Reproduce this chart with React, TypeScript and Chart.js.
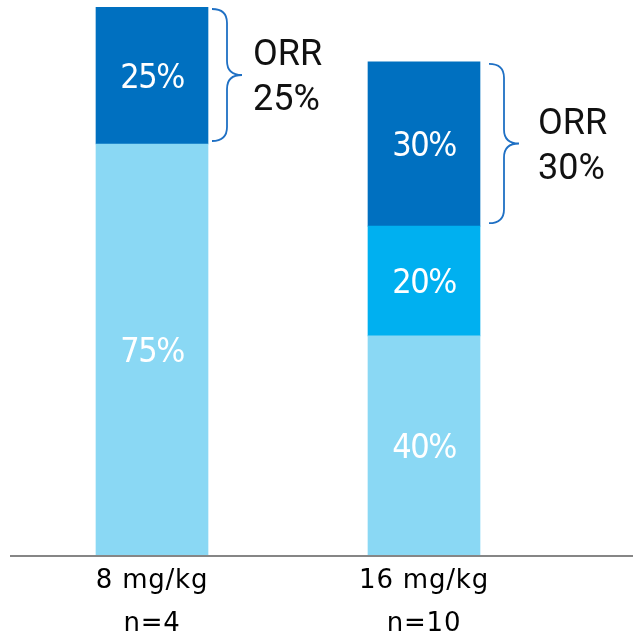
import React, { useEffect, useRef } from "react";
import { Chart, registerables } from "chart.js";

Chart.register(...registerables);

// Dose groups shown on the x axis (two lines each)
const doseLabels: string[][] = [
  ["8 mg/kg", "n=4"],
  ["16 mg/kg", "n=10"],
];

// Stacked response shares, in percent, bottom to top
const lowerShare: (number | null)[] = [75, 40];
const middleShare: (number | null)[] = [null, 20];
const orrShare: (number | null)[] = [25, 30];

const COLOR_LOWER = "#8AD8F4";
const COLOR_MIDDLE = "#00B0F0";
const COLOR_ORR = "#0070C0";
const BRACE_COLOR = "#1F70C4";

// Horizontal offsets of each ORR brace / caption from its bar's right edge
const braceGap = [4, 9];
const captionGap = [45, 58];

const W = 633;
const H = 638;

const segmentLabels = {
  id: "segmentLabels",
  afterDatasetsDraw(chart: any) {
    const ctx: CanvasRenderingContext2D = chart.ctx;
    ctx.save();
    ctx.letterSpacing = "-1.5px";
    const size = 34;
    ctx.font = `${size}px 'DejaVu Sans Condensed', sans-serif`;
    ctx.fillStyle = "#ffffff";
    ctx.textAlign = "center";
    ctx.textBaseline = "alphabetic";
    chart.data.datasets.forEach((ds: any, di: number) => {
      const meta = chart.getDatasetMeta(di);
      meta.data.forEach((bar: any, i: number) => {
        const v = ds.data[i];
        if (v == null || v === 0) return;
        const p = bar.getProps(["x", "y", "base"], true);
        const cy = (p.y + p.base) / 2;
        ctx.fillText(`${v}%`, p.x, cy + size * 0.729 / 2);
      });
    });
    ctx.restore();
  },
};

const orrBraces = {
  id: "orrBraces",
  afterDatasetsDraw(chart: any) {
    const ctx: CanvasRenderingContext2D = chart.ctx;
    const orrIndex = chart.data.datasets.length - 1;
    const meta = chart.getDatasetMeta(orrIndex);
    ctx.save();
    ctx.letterSpacing = "0px";
    meta.data.forEach((bar: any, i: number) => {
      const v = orrShare[i];
      if (v == null) return;
      const p = bar.getProps(["x", "y", "base", "width"], true);
      const right = p.x + p.width / 2;
      const top = p.y + 2;
      const bottom = p.base - 3;
      const mid = (top + bottom) / 2;
      const x0 = right + braceGap[i];
      const xm = x0 + 15;
      const x1 = x0 + 30;
      const r = 14;

      ctx.beginPath();
      ctx.moveTo(x0, top);
      ctx.quadraticCurveTo(xm, top, xm, top + r);
      ctx.lineTo(xm, mid - r);
      ctx.quadraticCurveTo(xm, mid, x1, mid);
      ctx.quadraticCurveTo(xm, mid, xm, mid + r);
      ctx.lineTo(xm, bottom - r);
      ctx.quadraticCurveTo(xm, bottom, x0, bottom);
      ctx.strokeStyle = BRACE_COLOR;
      ctx.lineWidth = 1.8;
      ctx.stroke();

      const size = 36;
      ctx.font = `${size}px Roboto, 'Open Sans', sans-serif`;
      ctx.fillStyle = "#111111";
      ctx.textAlign = "left";
      ctx.textBaseline = "alphabetic";
      const tx = right + captionGap[i];
      const cap = size * 0.711;
      ctx.fillText("ORR", tx, mid - 22.5 + cap / 2);
      ctx.fillText(`${v}%`, tx, mid + 22.5 + cap / 2);
    });
    ctx.restore();
  },
};

const baseline = {
  id: "baseline",
  beforeDraw(chart: any) {
    // slightly wider tracking for the dose labels on the x axis
    chart.ctx.letterSpacing = "0.8px";
  },
  beforeDatasetsDraw(chart: any) {
    chart.ctx.letterSpacing = "0px";
  },
  afterDatasetsDraw(chart: any) {
    const ctx: CanvasRenderingContext2D = chart.ctx;
    const y = chart.chartArea.bottom;
    ctx.save();
    ctx.fillStyle = "#868686";
    ctx.fillRect(10, y, W - 10, 2);
    ctx.restore();
  },
};

export default function App() {
  const canvasRef = useRef<HTMLCanvasElement | null>(null);

  useEffect(() => {
    const canvas = canvasRef.current;
    if (!canvas) return;
    const chart = new Chart(canvas, {
      type: "bar",
      data: {
        labels: doseLabels,
        datasets: [
          { label: "lower", data: lowerShare, backgroundColor: COLOR_LOWER },
          { label: "middle", data: middleShare, backgroundColor: COLOR_MIDDLE },
          { label: "ORR", data: orrShare, backgroundColor: COLOR_ORR },
        ],
      },
      options: {
        responsive: false,
        animation: false,
        devicePixelRatio: 1,
        layout: { padding: { top: 7, left: 16, right: W - 560, bottom: 0 } },
        datasets: { bar: { barThickness: 112, borderWidth: 0 } },
        plugins: {
          legend: { display: false },
          tooltip: { enabled: false },
        },
        scales: {
          x: {
            stacked: true,
            grid: { display: false, drawTicks: false },
            border: { display: false },
            ticks: {
              color: "#000000",
              padding: 5,
              font: { family: "'DejaVu Sans', sans-serif", size: 26, lineHeight: 43 / 26 },
            },
            afterFit: (scale: any) => {
              scale.height = H - 555;
            },
          },
          y: {
            stacked: true,
            display: false,
            min: 0,
            max: 100,
          },
        },
      },
      plugins: [baseline, segmentLabels, orrBraces],
    });
    return () => chart.destroy();
  }, []);

  return (
    <div
      style={{
        position: "fixed",
        left: 0,
        top: 0,
        width: W,
        height: H,
        background: "#ffffff",
      }}
    >
      <canvas ref={canvasRef} width={W} height={H} style={{ display: "block" }} />
    </div>
  );
}
